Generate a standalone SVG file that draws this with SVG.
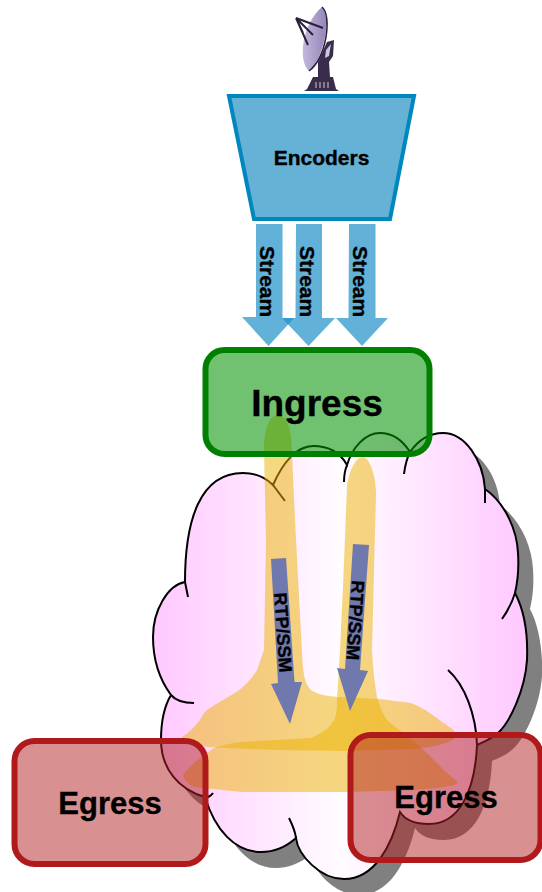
<svg xmlns="http://www.w3.org/2000/svg" xmlns:xlink="http://www.w3.org/1999/xlink" width="542" height="892" viewBox="0 0 542 892">
<style>
text{font-family:"Liberation Sans",Arial,sans-serif;font-weight:bold;fill:#000;stroke:#000;stroke-width:.35}
.stream{fill:#1e90c8;fill-opacity:.7}
.rtp{fill:#6a76ae;fill-opacity:.97}
.flow{fill:#ecb100;fill-opacity:.5}
.egress{fill:#b22222;fill-opacity:.5;stroke:#b01a1a;stroke-width:6}
.st{font-size:21px}
.rt{font-size:18px}
.eg{font-size:31px;text-anchor:middle}
.tower{fill:#3a2d4c}
.feed{stroke:#2a1f3d;stroke-width:2;fill:none}
</style>
<defs>
<linearGradient id="cloudFill" x1="0" y1="0" x2="1" y2="0">
<stop offset="0" stop-color="#ffc8ff"/><stop offset=".5" stop-color="#fffcff"/><stop offset="1" stop-color="#ffc8ff"/>
</linearGradient>
<linearGradient id="dishFill" x1="0" y1="0" x2="1" y2="0">
<stop offset="0" stop-color="#c2b8dc"/><stop offset="1" stop-color="#9486b8"/>
</linearGradient>
<path id="cloudShape" d="M185 582C185 520 200 473 243 473C256 473 266 478 273 485C283 462 297 446 313 446C328 446 340 452 347 465C352 448 365 433 380 433C393 433 403 441 410 452C417 442 428 433 443 433C465 433 483 460 485 489C505 503 517 530 518 553C519 568 518 580 515 593C524 610 528 635 527 660C525 690 510 722 498 733C490 740 483 742 477 745C475 790 460 824 429 824C415 824 405 820 400 812C392 845 375 879 344 879C320 879 298 855 296 838C285 848 272 852 261 852C235 852 215 830 205 797C180 790 161 770 161 740C161 720 165 705 171 695C160 680 153 660 153 637C153 610 168 585 185 582Z"/>
</defs>

<g id="cloud">
<use xlink:href="#cloudShape" href="#cloudShape" transform="translate(15 16)" fill="#808080"/>
<use xlink:href="#cloudShape" href="#cloudShape" fill="url(#cloudFill)" stroke="#000" stroke-width="2"/>
<path fill="none" stroke="#000" stroke-width="2" d="M185 582L188 597M273 485L285 501M347 465C345 470 344 476 344 482M410 452C407 458 405 466 404 474M485 489L485 503M515 593C512 603 507 612 502 619M477 745C476 715 465 685 448 670M296 838C295 830 292 824 289 818M205 797C207 798 211 796 213 793M171 695C176 701 185 703 194 703"/>
</g>

<g id="flows">
<path class="flow" d="M278 415C287 415 292 430 292 453L295 520L302 653C303 672 304 683 311 690C318 695 328 696 337 697L380 699L411 703C422 707 432 714 442 722C448 726 453 729 455 732C456 737 455 739 453 740C440 746 425 748 415 749L346 751L276 750L207 747L182 740V737C190 732 195 726 200 720C203 714 205 712 207 710C215 704 225 699 235 693C246 686 252 678 257 670C260 662 262 655 264 650L266 540L264 450C264 430 269 415 278 415Z"/>
<path class="flow" d="M363 457C369 457 376 475 376 493L372 650C373 670 375 685 377 697C379 705 383 714 387 720C396 728 405 734 415 742C424 750 432 758 439 765C445 772 452 777 458 782C458 786 440 788 415 790L346 792L242 792L194 787C188 784 184 780 183 775C190 765 202 756 214 748C222 745 232 743 242 742L311 738C322 733 330 728 334 720C337 714 337 707 337 700L340 650L343 587L347 487C349 470 356 457 363 457Z"/>
</g>

<g id="ingress">
<rect x="205.500" y="350" width="224" height="104" rx="19" fill="#009200" fill-opacity=".56" stroke="#008000" stroke-width="6"/>
<text x="317" y="416" font-size="37" text-anchor="middle">Ingress</text>
</g>

<g id="connectors">
<path class="stream" d="M256 224H282.500V318H294L268.500 346L242 317H256Z"/>
<path class="stream" d="M296 224H322V318H335L308.500 346L282 318H295.500Z"/>
<path class="stream" d="M349 224H375.500V318H388L362 346L336 318H348.500Z"/>
<path class="rtp" d="M271 559L286 558L294.500 682L302 682L290 724L271 684L278 683Z"/>
<path class="rtp" d="M353 544L369 545L360 670L368 671L350 711L337 668L345 669Z"/>
<text class="st" transform="translate(260 246) rotate(90)">Stream</text>
<text class="st" transform="translate(300 246) rotate(90)">Stream</text>
<text class="st" transform="translate(353 246) rotate(90)">Stream</text>
<text class="rt" transform="translate(274 593) rotate(86)">RTP/SSM</text>
<text class="rt" transform="translate(352 580) rotate(94)">RTP/SSM</text>
</g>

<g id="encoders">
<polygon points="229,96 414,96 390,219 254,219" fill="#66b2d6" stroke="#0087bd" stroke-width="4"/>
<text x="321.500" y="165" font-size="21" text-anchor="middle">Encoders</text>
</g>

<g id="satellite">
<path d="M322 7C331 15 325 57 309 71C298 62 301 25 322 7Z" fill="url(#dishFill)"/>
<path d="M322 7C332 15 327 57 309 71" fill="none" stroke="#2a1f3d" stroke-width="1.500"/>
<path class="feed" d="M296 18L323 28M296 18L313 35M296 18L308 45M296 18L303 33"/>
<path class="tower" d="M318 62L327 42L334 40L333 56L329 62L330 77H333L336 89L339 91H304L307 89L313 77H318Z"/>
<path d="M326 50L331 44L329 56L325 58Z" fill="#cfc6e0"/>
<path d="M316 82V88M320 82V88M324 82V88M328 82V88" stroke="#cfc6e0" stroke-width="1"/>
</g>

<g id="egress-left">
<rect class="egress" x="14.500" y="741" width="191" height="123" rx="20"/>
<text class="eg" x="110" y="814">Egress</text>
</g>

<g id="egress-right">
<rect class="egress" x="350.500" y="735" width="190" height="125" rx="20"/>
<text class="eg" x="446" y="808">Egress</text>
</g>
</svg>
